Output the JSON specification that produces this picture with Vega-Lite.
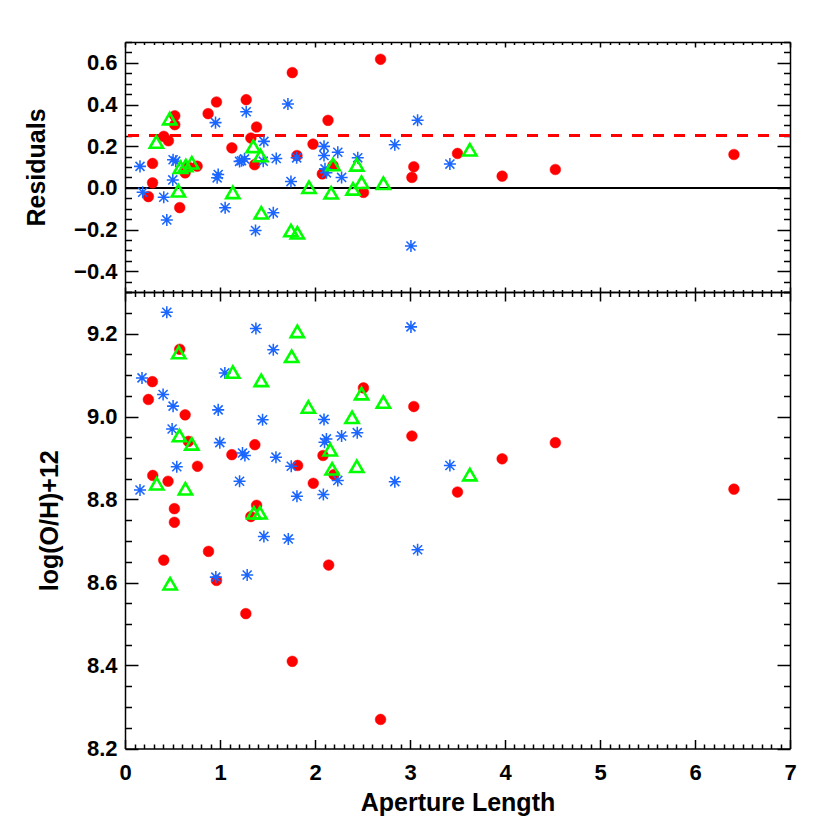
{
  "$schema": "https://vega.github.io/schema/vega-lite/v6.json",
  "background": "white",
  "padding": {"left": 24, "top": 31, "right": 5, "bottom": 5},
  "config": {
    "view": {"stroke": null},
    "font": "Liberation Sans",
    "axis": {
      "labelFont": "Liberation Sans", "labelFontWeight": "bold", "labelFontSize": 22, "labelColor": "black",
      "titleFont": "Liberation Sans", "titleFontWeight": "bold", "titleFontSize": 25, "titleColor": "black",
      "domainColor": "black", "tickColor": "black", "domainWidth": 1.5, "tickWidth": 1.5, "grid": false,
      "labelOverlap": false, "labelFlush": false, "labelBound": false
    }
  },
  "datasets": {
    "top": [
      {"x":0.29,"y":0.117,"s":"r"},{"x":0.29,"y":0.024,"s":"r"},{"x":0.246,"y":-0.042,"s":"r"},{"x":0.408,"y":0.247,"s":"r"},{"x":0.457,"y":0.226,"s":"r"},{"x":0.524,"y":0.346,"s":"r"},{"x":0.524,"y":0.303,"s":"r"},{"x":0.576,"y":-0.095,"s":"r"},{"x":0.633,"y":0.072,"s":"r"},{"x":0.668,"y":0.10,"s":"r"},{"x":0.759,"y":0.104,"s":"r"},{"x":0.875,"y":0.356,"s":"r"},{"x":0.963,"y":0.412,"s":"r"},{"x":1.125,"y":0.192,"s":"r"},{"x":1.276,"y":0.423,"s":"r"},{"x":1.325,"y":0.239,"s":"r"},{"x":1.385,"y":0.292,"s":"r"},{"x":1.364,"y":0.111,"s":"r"},{"x":1.761,"y":0.553,"s":"r"},{"x":1.81,"y":0.155,"s":"r"},{"x":1.979,"y":0.21,"s":"r"},{"x":2.077,"y":0.067,"s":"r"},{"x":2.137,"y":0.324,"s":"r"},{"x":2.69,"y":0.617,"s":"r"},{"x":2.19,"y":0.107,"s":"r"},{"x":2.51,"y":-0.022,"s":"r"},{"x":3.04,"y":0.101,"s":"r"},{"x":3.02,"y":0.05,"s":"r"},{"x":3.5,"y":0.165,"s":"r"},{"x":3.97,"y":0.056,"s":"r"},{"x":4.53,"y":0.088,"s":"r"},{"x":6.41,"y":0.16,"s":"r"},
      {"x":0.158,"y":0.103,"s":"b"},{"x":0.186,"y":-0.021,"s":"b"},{"x":0.408,"y":-0.045,"s":"b"},{"x":0.44,"y":-0.154,"s":"b"},{"x":0.506,"y":0.135,"s":"b"},{"x":0.534,"y":0.128,"s":"b"},{"x":0.503,"y":0.038,"s":"b"},{"x":0.953,"y":0.313,"s":"b"},{"x":0.981,"y":0.064,"s":"b"},{"x":0.97,"y":0.048,"s":"b"},{"x":1.054,"y":-0.096,"s":"b"},{"x":1.206,"y":0.127,"s":"b"},{"x":1.258,"y":0.139,"s":"b"},{"x":1.227,"y":0.13,"s":"b"},{"x":1.276,"y":0.365,"s":"b"},{"x":1.374,"y":-0.205,"s":"b"},{"x":1.462,"y":0.223,"s":"b"},{"x":1.455,"y":0.128,"s":"b"},{"x":1.561,"y":-0.12,"s":"b"},{"x":1.592,"y":0.141,"s":"b"},{"x":1.715,"y":0.402,"s":"b"},{"x":1.747,"y":0.03,"s":"b"},{"x":1.807,"y":0.144,"s":"b"},{"x":2.095,"y":0.199,"s":"b"},{"x":2.095,"y":0.155,"s":"b"},{"x":2.105,"y":0.091,"s":"b"},{"x":2.12,"y":0.072,"s":"b"},{"x":2.24,"y":0.171,"s":"b"},{"x":2.28,"y":0.05,"s":"b"},{"x":2.45,"y":0.144,"s":"b"},{"x":2.84,"y":0.207,"s":"b"},{"x":3.08,"y":0.324,"s":"b"},{"x":3.01,"y":-0.279,"s":"b"},{"x":3.42,"y":0.114,"s":"b"},
      {"x":0.33,"y":0.22,"s":"g"},{"x":0.471,"y":0.332,"s":"g"},{"x":0.562,"y":-0.014,"s":"g"},{"x":0.584,"y":0.099,"s":"g"},{"x":0.64,"y":0.107,"s":"g"},{"x":0.703,"y":0.12,"s":"g"},{"x":1.135,"y":-0.022,"s":"g"},{"x":1.35,"y":0.199,"s":"g"},{"x":1.427,"y":0.155,"s":"g"},{"x":1.434,"y":-0.12,"s":"g"},{"x":1.747,"y":-0.205,"s":"g"},{"x":1.814,"y":-0.216,"s":"g"},{"x":1.937,"y":0.003,"s":"g"},{"x":2.17,"y":-0.024,"s":"g"},{"x":2.19,"y":0.112,"s":"g"},{"x":2.44,"y":0.11,"s":"g"},{"x":2.4,"y":-0.005,"s":"g"},{"x":2.49,"y":0.027,"s":"g"},{"x":2.72,"y":0.022,"s":"g"},{"x":3.63,"y":0.183,"s":"g"}
    ],
    "bottom": [
      {"x":0.576,"y":9.162,"s":"r"},{"x":0.288,"y":9.084,"s":"r"},{"x":0.246,"y":9.041,"s":"r"},{"x":0.633,"y":9.004,"s":"r"},{"x":0.668,"y":8.94,"s":"r"},{"x":0.763,"y":8.88,"s":"r"},{"x":1.125,"y":8.908,"s":"r"},{"x":1.367,"y":8.932,"s":"r"},{"x":1.817,"y":8.882,"s":"r"},{"x":2.084,"y":8.906,"s":"r"},{"x":0.292,"y":8.858,"s":"r"},{"x":0.453,"y":8.844,"s":"r"},{"x":0.52,"y":8.778,"s":"r"},{"x":0.52,"y":8.745,"s":"r"},{"x":1.385,"y":8.786,"s":"r"},{"x":1.325,"y":8.759,"s":"r"},{"x":1.982,"y":8.839,"s":"r"},{"x":2.51,"y":9.069,"s":"r"},{"x":3.04,"y":9.024,"s":"r"},{"x":3.02,"y":8.953,"s":"r"},{"x":2.2,"y":8.86,"s":"r"},{"x":3.97,"y":8.898,"s":"r"},{"x":3.5,"y":8.818,"s":"r"},{"x":0.879,"y":8.675,"s":"r"},{"x":0.408,"y":8.654,"s":"r"},{"x":2.144,"y":8.642,"s":"r"},{"x":0.963,"y":8.605,"s":"r"},{"x":1.272,"y":8.525,"s":"r"},{"x":1.761,"y":8.41,"s":"r"},{"x":2.69,"y":8.27,"s":"r"},{"x":4.53,"y":8.937,"s":"r"},{"x":6.41,"y":8.825,"s":"r"},
      {"x":0.44,"y":9.251,"s":"b"},{"x":1.378,"y":9.212,"s":"b"},{"x":1.561,"y":9.161,"s":"b"},{"x":1.051,"y":9.105,"s":"b"},{"x":0.179,"y":9.093,"s":"b"},{"x":0.401,"y":9.053,"s":"b"},{"x":0.506,"y":9.025,"s":"b"},{"x":0.981,"y":9.016,"s":"b"},{"x":1.448,"y":8.992,"s":"b"},{"x":2.095,"y":8.993,"s":"b"},{"x":0.496,"y":8.97,"s":"b"},{"x":0.998,"y":8.937,"s":"b"},{"x":2.12,"y":8.946,"s":"b"},{"x":2.1,"y":8.938,"s":"b"},{"x":1.237,"y":8.912,"s":"b"},{"x":1.262,"y":8.906,"s":"b"},{"x":1.589,"y":8.902,"s":"b"},{"x":1.75,"y":8.88,"s":"b"},{"x":0.545,"y":8.879,"s":"b"},{"x":1.206,"y":8.844,"s":"b"},{"x":0.158,"y":8.823,"s":"b"},{"x":1.81,"y":8.808,"s":"b"},{"x":2.088,"y":8.812,"s":"b"},{"x":3.01,"y":9.216,"s":"b"},{"x":2.445,"y":8.961,"s":"b"},{"x":2.28,"y":8.953,"s":"b"},{"x":2.24,"y":8.846,"s":"b"},{"x":3.42,"y":8.882,"s":"b"},{"x":2.84,"y":8.843,"s":"b"},{"x":1.462,"y":8.711,"s":"b"},{"x":1.719,"y":8.705,"s":"b"},{"x":0.956,"y":8.613,"s":"b"},{"x":1.286,"y":8.618,"s":"b"},{"x":3.08,"y":8.679,"s":"b"},
      {"x":1.814,"y":9.205,"s":"g"},{"x":0.566,"y":9.154,"s":"g"},{"x":1.754,"y":9.145,"s":"g"},{"x":1.135,"y":9.107,"s":"g"},{"x":1.434,"y":9.087,"s":"g"},{"x":1.93,"y":9.023,"s":"g"},{"x":0.573,"y":8.954,"s":"g"},{"x":0.703,"y":8.934,"s":"g"},{"x":0.334,"y":8.838,"s":"g"},{"x":0.636,"y":8.826,"s":"g"},{"x":1.357,"y":8.768,"s":"g"},{"x":1.42,"y":8.768,"s":"g"},{"x":2.49,"y":9.055,"s":"g"},{"x":2.72,"y":9.035,"s":"g"},{"x":2.39,"y":8.998,"s":"g"},{"x":2.16,"y":8.92,"s":"g"},{"x":2.44,"y":8.88,"s":"g"},{"x":2.18,"y":8.874,"s":"g"},{"x":3.63,"y":8.86,"s":"g"},{"x":0.475,"y":8.597,"s":"g"}
    ]
  },
  "spacing": 0,
  "bounds": "flush",
  "vconcat": [
    {
      "width": 665,
      "height": 250,
      "data": {"name": "top"},
      "layer": [
        {"mark": {"type": "rule", "color": "black", "strokeWidth": 1.5}, "encoding": {"y": {"datum": 0, "type": "quantitative", "axis": null}}},
        {"mark": {"type": "rule", "color": "#ff0000", "strokeWidth": 2, "strokeDash": [11, 10]}, "encoding": {"y": {"datum": 0.25, "type": "quantitative", "axis": null}}},
        {
          "mark": {"type": "point", "opacity": 1},
          "encoding": {
            "x": {"field": "x", "type": "quantitative", "scale": {"domain": [0, 7], "nice": false, "zero": false},
              "axis": {"orient": "bottom", "title": null, "labels": false,
                "values": [0,0.1,0.2,0.3,0.4,0.5,0.6,0.7,0.8,0.9,1,1.1,1.2,1.3,1.4,1.5,1.6,1.7,1.8,1.9,2,2.1,2.2,2.3,2.4,2.5,2.6,2.7,2.8,2.9,3,3.1,3.2,3.3,3.4,3.5,3.6,3.7,3.8,3.9,4,4.1,4.2,4.3,4.4,4.5,4.6,4.7,4.8,4.9,5,5.1,5.2,5.3,5.4,5.5,5.6,5.7,5.8,5.9,6,6.1,6.2,6.3,6.4,6.5,6.6,6.7,6.8,6.9,7],
                "tickSize": {"condition": {"test": "abs(datum.value - round(datum.value)) > 0.001", "value": -2.5}, "value": -5}}},
            "y": {"field": "y", "type": "quantitative", "scale": {"domain": [-0.5, 0.7], "nice": false, "zero": false},
              "axis": {"orient": "left", "title": "Residuals", "titlePadding": 24, "labelPadding": 21,
                "values": [-0.5,-0.45,-0.4,-0.35,-0.3,-0.25,-0.2,-0.15,-0.1,-0.05,0,0.05,0.1,0.15,0.2,0.25,0.3,0.35,0.4,0.45,0.5,0.55,0.6,0.65,0.7],
                "labelExpr": "abs(datum.value*5 - round(datum.value*5)) < 0.001 ? format(datum.value, '.1f') : ''",
                "tickSize": {"condition": {"test": "abs(datum.value*5 - round(datum.value*5)) > 0.001", "value": -6.5}, "value": -13}}},
            "shape": {"field": "s", "type": "nominal", "legend": null, "scale": {"domain": ["r", "b", "g"], "range": ["circle", "M-1,0L1,0M0,-1L0,1M-0.75,-0.75L0.75,0.75M-0.75,0.75L0.75,-0.75", "triangle-up"]}},
            "stroke": {"field": "s", "type": "nominal", "legend": null, "scale": {"domain": ["r", "b", "g"], "range": ["#ff0000", "#1a66ff", "#00ff00"]}},
            "fill": {"field": "s", "type": "nominal", "legend": null, "scale": {"domain": ["r", "b", "g"], "range": ["#ff0000", "transparent", "transparent"]}},
            "size": {"field": "s", "type": "nominal", "legend": null, "scale": {"domain": ["r", "b", "g"], "range": [115, 175, 155]}},
            "strokeWidth": {"field": "s", "type": "nominal", "legend": null, "scale": {"domain": ["r", "b", "g"], "range": [0.5, 2.6, 2]}}
          }
        },
        {
          "mark": {"type": "point", "opacity": 0},
          "encoding": {
            "x": {"field": "x", "type": "quantitative",
              "axis": {"orient": "top", "title": null, "labels": false,
                "values": [0,0.1,0.2,0.3,0.4,0.5,0.6,0.7,0.8,0.9,1,1.1,1.2,1.3,1.4,1.5,1.6,1.7,1.8,1.9,2,2.1,2.2,2.3,2.4,2.5,2.6,2.7,2.8,2.9,3,3.1,3.2,3.3,3.4,3.5,3.6,3.7,3.8,3.9,4,4.1,4.2,4.3,4.4,4.5,4.6,4.7,4.8,4.9,5,5.1,5.2,5.3,5.4,5.5,5.6,5.7,5.8,5.9,6,6.1,6.2,6.3,6.4,6.5,6.6,6.7,6.8,6.9,7],
                "tickSize": {"condition": {"test": "abs(datum.value - round(datum.value)) > 0.001", "value": -2.5}, "value": -5}}},
            "y": {"field": "y", "type": "quantitative",
              "axis": {"orient": "right", "title": null, "labels": false,
                "values": [-0.5,-0.45,-0.4,-0.35,-0.3,-0.25,-0.2,-0.15,-0.1,-0.05,0,0.05,0.1,0.15,0.2,0.25,0.3,0.35,0.4,0.45,0.5,0.55,0.6,0.65,0.7],
                "tickSize": {"condition": {"test": "abs(datum.value*5 - round(datum.value*5)) > 0.001", "value": -6.5}, "value": -13}}}
          }
        }
      ],
      "resolve": {"axis": {"x": "independent", "y": "independent"}}
    },
    {
      "width": 665,
      "height": 456.5,
      "data": {"name": "bottom"},
      "layer": [
        {
          "mark": {"type": "point", "opacity": 1},
          "encoding": {
            "x": {"field": "x", "type": "quantitative", "scale": {"domain": [0, 7], "nice": false, "zero": false},
              "axis": {"orient": "bottom", "title": "Aperture Length", "titlePadding": 2, "labelPadding": 23,
                "values": [0,0.1,0.2,0.3,0.4,0.5,0.6,0.7,0.8,0.9,1,1.1,1.2,1.3,1.4,1.5,1.6,1.7,1.8,1.9,2,2.1,2.2,2.3,2.4,2.5,2.6,2.7,2.8,2.9,3,3.1,3.2,3.3,3.4,3.5,3.6,3.7,3.8,3.9,4,4.1,4.2,4.3,4.4,4.5,4.6,4.7,4.8,4.9,5,5.1,5.2,5.3,5.4,5.5,5.6,5.7,5.8,5.9,6,6.1,6.2,6.3,6.4,6.5,6.6,6.7,6.8,6.9,7],
                "labelExpr": "abs(datum.value - round(datum.value)) < 0.001 ? format(datum.value, 'd') : ''",
                "tickSize": {"condition": {"test": "abs(datum.value - round(datum.value)) > 0.001", "value": -4.5}, "value": -9}}},
            "y": {"field": "y", "type": "quantitative", "scale": {"domain": [8.2, 9.3], "nice": false, "zero": false},
              "axis": {"orient": "left", "title": "log(O/H)+12", "titlePadding": 24, "labelPadding": 21,
                "values": [8.2,8.25,8.3,8.35,8.4,8.45,8.5,8.55,8.6,8.65,8.7,8.75,8.8,8.85,8.9,8.95,9,9.05,9.1,9.15,9.2,9.25,9.3],
                "labelExpr": "abs((datum.value-8.2)*5 - round((datum.value-8.2)*5)) < 0.001 ? format(datum.value, '.1f') : ''",
                "tickSize": {"condition": {"test": "abs((datum.value-8.2)*5 - round((datum.value-8.2)*5)) > 0.001", "value": -6.5}, "value": -13}}},
            "shape": {"field": "s", "type": "nominal", "legend": null, "scale": {"domain": ["r", "b", "g"], "range": ["circle", "M-1,0L1,0M0,-1L0,1M-0.75,-0.75L0.75,0.75M-0.75,0.75L0.75,-0.75", "triangle-up"]}},
            "stroke": {"field": "s", "type": "nominal", "legend": null, "scale": {"domain": ["r", "b", "g"], "range": ["#ff0000", "#1a66ff", "#00ff00"]}},
            "fill": {"field": "s", "type": "nominal", "legend": null, "scale": {"domain": ["r", "b", "g"], "range": ["#ff0000", "transparent", "transparent"]}},
            "size": {"field": "s", "type": "nominal", "legend": null, "scale": {"domain": ["r", "b", "g"], "range": [115, 175, 155]}},
            "strokeWidth": {"field": "s", "type": "nominal", "legend": null, "scale": {"domain": ["r", "b", "g"], "range": [0.5, 2.6, 2]}}
          }
        },
        {
          "mark": {"type": "point", "opacity": 0},
          "encoding": {
            "x": {"field": "x", "type": "quantitative",
              "axis": {"orient": "top", "title": null, "labels": false,
                "values": [0,0.1,0.2,0.3,0.4,0.5,0.6,0.7,0.8,0.9,1,1.1,1.2,1.3,1.4,1.5,1.6,1.7,1.8,1.9,2,2.1,2.2,2.3,2.4,2.5,2.6,2.7,2.8,2.9,3,3.1,3.2,3.3,3.4,3.5,3.6,3.7,3.8,3.9,4,4.1,4.2,4.3,4.4,4.5,4.6,4.7,4.8,4.9,5,5.1,5.2,5.3,5.4,5.5,5.6,5.7,5.8,5.9,6,6.1,6.2,6.3,6.4,6.5,6.6,6.7,6.8,6.9,7],
                "tickSize": {"condition": {"test": "abs(datum.value - round(datum.value)) > 0.001", "value": -4.5}, "value": -9}}},
            "y": {"field": "y", "type": "quantitative",
              "axis": {"orient": "right", "title": null, "labels": false,
                "values": [8.2,8.25,8.3,8.35,8.4,8.45,8.5,8.55,8.6,8.65,8.7,8.75,8.8,8.85,8.9,8.95,9,9.05,9.1,9.15,9.2,9.25,9.3],
                "tickSize": {"condition": {"test": "abs((datum.value-8.2)*5 - round((datum.value-8.2)*5)) > 0.001", "value": -6.5}, "value": -13}}}
          }
        }
      ],
      "resolve": {"axis": {"x": "independent", "y": "independent"}}
    }
  ]
}
